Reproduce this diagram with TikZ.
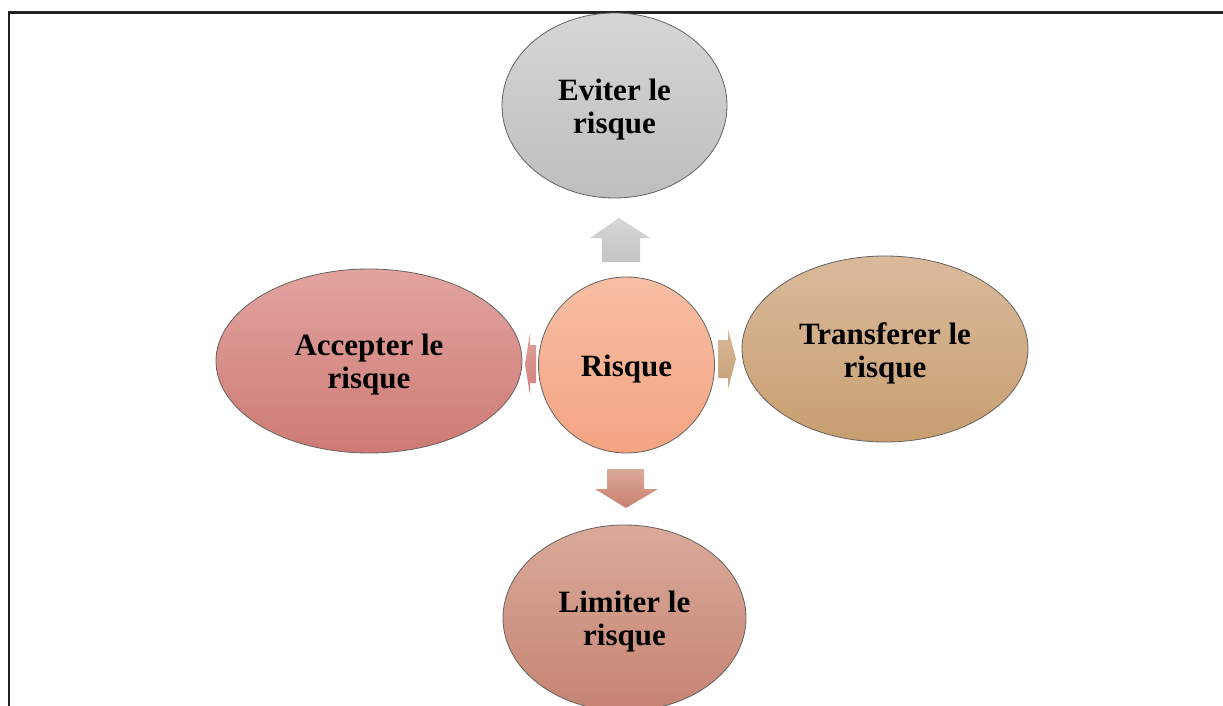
\documentclass[tikz,border=0pt]{standalone}
\usepackage{fontspec}
\setmainfont{Liberation Serif}
\usetikzlibrary{shapes.geometric}

\definecolor{frameline}{HTML}{222222}
\definecolor{edgeline}{HTML}{666260}

\tikzset{
  bubble/.style={ellipse, inner sep=0pt, draw=edgeline, line width=0.8pt,
    shading=axis, shading angle=0},
  caption/.style={align=center, inner sep=0pt, yshift=-4pt,
    font=\fontsize{31}{33}\selectfont\bfseries},
  blockarrow/.style={shading=axis, shading angle=0, draw=none}
}

\begin{document}
\begin{tikzpicture}[x=1pt,y=-1pt]
  \useasboundingbox (0,0) rectangle (1223,706);
  \clip (0,0) rectangle (1223,706);
  \fill[white] (0,0) rectangle (1223,706);

  % open frame: left and top sides
  \draw[frameline, line width=2.3pt] (9,706) -- (9,12.5) -- (1223,12.5);

  % outer bubbles
  \node[bubble, minimum width=225pt, minimum height=185pt,
        top color={rgb,255:red,214;green,214;blue,214},
        bottom color={rgb,255:red,190;green,190;blue,190}]
        (eviter) at (614.5,105.5) {};
  \node[bubble, minimum width=306pt, minimum height=184pt,
        top color={rgb,255:red,226;green,164;blue,160},
        bottom color={rgb,255:red,206;green,122;blue,116}]
        (accepter) at (369,361) {};
  \node[bubble, minimum width=286pt, minimum height=186pt,
        top color={rgb,255:red,218;green,186;blue,156},
        bottom color={rgb,255:red,200;green,158;blue,112}]
        (transferer) at (885,349) {};
  \node[bubble, minimum width=243pt, minimum height=186pt,
        top color={rgb,255:red,218;green,170;blue,154},
        bottom color={rgb,255:red,198;green,132;blue,114}]
        (limiter) at (624.5,618) {};

  % central bubble
  \node[bubble, minimum width=176pt, minimum height=176pt,
        top color={rgb,255:red,247;green,190;blue,164},
        bottom color={rgb,255:red,244;green,164;blue,130}]
        (risque) at (626.5,365) {};

  % bubble captions
  \node[caption] (eviter-t) at (eviter.center) {Eviter le\\risque};
  \node[caption] (accepter-t) at (accepter.center) {Accepter le\\risque};
  \node[caption] (transferer-t) at (transferer.center) {Transferer le\\risque};
  \node[caption] (limiter-t) at (limiter.center) {Limiter le\\risque};
  \node[caption] (risque-t) at (risque.center) {Risque};

  % block arrows from the centre towards each outcome
  \path[blockarrow, top color={rgb,255:red,214;green,214;blue,214},
        bottom color={rgb,255:red,196;green,196;blue,196}]
    (602,262) -- (602,238) -- (590,238) -- (619,218) -- (650,238)
    -- (640,238) -- (640,262) -- cycle;
  \path[blockarrow, top color={rgb,255:red,220;green,170;blue,154},
        bottom color={rgb,255:red,200;green,128;blue,110}]
    (607,469) -- (644,469) -- (644,489) -- (658,489) -- (626,508)
    -- (595,489) -- (607,489) -- cycle;
  \path[blockarrow, top color={rgb,255:red,216;green,184;blue,152},
        bottom color={rgb,255:red,200;green,160;blue,122}]
    (718,340) -- (728,340) -- (728,329) -- (736,359) -- (728,389)
    -- (728,378) -- (718,378) -- cycle;
  \path[blockarrow, top color={rgb,255:red,222;green,160;blue,156},
        bottom color={rgb,255:red,210;green,128;blue,122}]
    (536,345) -- (530,345) -- (530,333) -- (525,364) -- (530,395)
    -- (530,383) -- (536,383) -- cycle;
\end{tikzpicture}
\end{document}
